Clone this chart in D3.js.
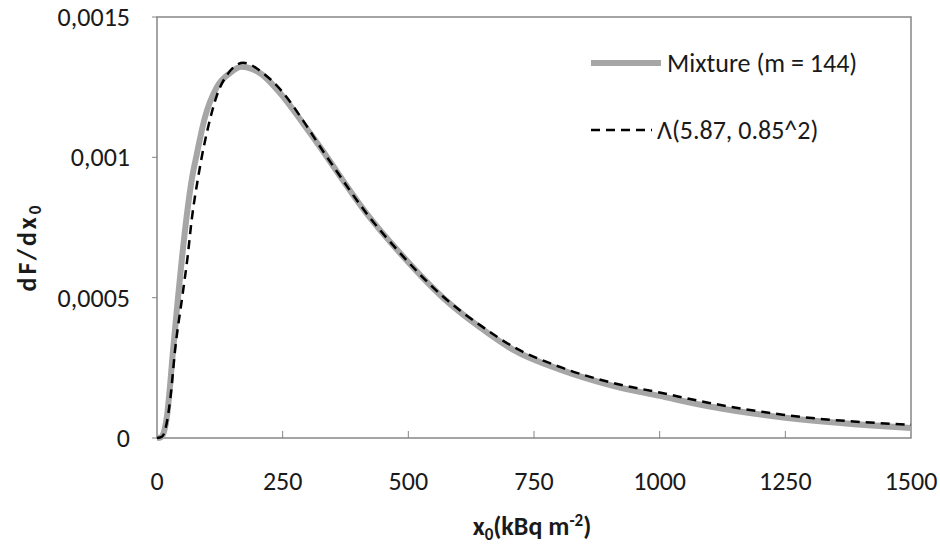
<!DOCTYPE html>
<html>
<head>
<meta charset="utf-8">
<script src="https://cdn.jsdelivr.net/npm/d3@7"></script>
<style>
  body { margin: 0; background: #fff; }
  text { font-family: Calibri, Carlito, Lato, sans-serif; fill: #1a1a1a; }
</style>
</head>
<body>
<div id="chart"></div>
<script>
// values
var mixtureX = [0, 8, 15, 20, 24, 32, 42, 50, 59, 70, 79, 95, 119, 145, 168, 205, 251, 291, 331, 350, 417, 483, 569, 642, 708, 808, 907, 1000, 1100, 1250, 1500];
var mixtureY = [0, 0.000003, 0.00003, 0.00008, 0.000148, 0.000314, 0.000504, 0.000647, 0.00079, 0.00093, 0.00101, 0.00114, 0.00125, 0.0013, 0.001323, 0.0013, 0.001216, 0.00112, 0.00102, 0.00097, 0.0008, 0.00066, 0.0005, 0.000395, 0.000315, 0.00024, 0.000186, 0.00015, 0.000112, 0.000072, 0.000036];

var lambdaX = [0, 10, 20, 27, 36, 50, 61, 69, 82, 90, 102, 119, 142, 172, 211, 251, 291, 331, 350, 417, 483, 569, 642, 708, 808, 907, 1000, 1099, 1245, 1500];
var lambdaY = [0, 0.000005, 0.00006, 0.000148, 0.000314, 0.0005, 0.000647, 0.000777, 0.00093, 0.00101, 0.00111, 0.00122, 0.0013, 0.001337, 0.0013, 0.00123, 0.00113, 0.00102, 0.00097, 0.0008, 0.00066, 0.000504, 0.000403, 0.000326, 0.000249, 0.000196, 0.000162, 0.000125, 0.000083, 0.000047];

var xTicks = [0, 250, 500, 750, 1000, 1250, 1500];
var yTicks = [0, 0.0005, 0.001, 0.0015];
var yTickLabels = ["0", "0,0005", "0,001", "0,0015"];
var legendLabels = ["Mixture (m = 144)", "\u039B(5.87, 0.85^2)"];

var width = 940, height = 548;
var plotLeft = 157, plotRight = 911, plotTop = 17, plotBottom = 438;
var axisColor = "#868686";

var svg = d3.select("#chart").append("svg")
    .attr("width", width)
    .attr("height", height);

var x = d3.scaleLinear().domain([0, 1500]).range([plotLeft, plotRight]);
var y = d3.scaleLinear().domain([0, 0.0015]).range([plotBottom, plotTop]);

// plot frame
svg.append("rect")
    .attr("x", plotLeft).attr("y", plotTop)
    .attr("width", plotRight - plotLeft).attr("height", plotBottom - plotTop)
    .attr("fill", "none")
    .attr("stroke", axisColor)
    .attr("stroke-width", 1.5);

// x ticks point inward
svg.append("g").selectAll("line")
    .data(xTicks.slice(1, -1))
    .enter().append("line")
    .attr("x1", function(d) { return x(d); })
    .attr("x2", function(d) { return x(d); })
    .attr("y1", plotBottom)
    .attr("y2", plotBottom - 7)
    .attr("stroke", axisColor);

svg.append("g").selectAll("text")
    .data(xTicks)
    .enter().append("text")
    .attr("x", function(d) { return x(d); })
    .attr("y", 490)
    .attr("text-anchor", "middle")
    .style("font-size", "26px")
    .text(function(d) { return d; });

// y ticks point outward
svg.append("g").selectAll("line")
    .data(yTicks)
    .enter().append("line")
    .attr("x1", plotLeft - 5)
    .attr("x2", plotLeft)
    .attr("y1", function(d) { return y(d); })
    .attr("y2", function(d) { return y(d); })
    .attr("stroke", axisColor);

svg.append("g").selectAll("text")
    .data(yTicks)
    .enter().append("text")
    .attr("x", 130)
    .attr("y", function(d) { return y(d) + 9; })
    .attr("text-anchor", "end")
    .style("font-size", "26px")
    .text(function(d, i) { return yTickLabels[i]; });

// axis titles
var yTitle = svg.append("text")
    .attr("transform", "translate(36,247) rotate(-90)")
    .attr("text-anchor", "middle")
    .style("font-size", "26px")
    .style("font-weight", "bold")
    .style("letter-spacing", "3px");
yTitle.append("tspan").text("dF/dx");
yTitle.append("tspan").attr("dy", 5).style("font-size", "17px").text("0");

var xTitle = svg.append("text")
    .attr("x", 532)
    .attr("y", 535)
    .attr("text-anchor", "middle")
    .style("font-size", "26px")
    .style("font-weight", "bold");
xTitle.append("tspan").text("x");
xTitle.append("tspan").attr("dy", 5).style("font-size", "17px").text("0");
xTitle.append("tspan").attr("dy", -5).text("(kBq m");
xTitle.append("tspan").attr("dy", -9).style("font-size", "17px").text("-2");
xTitle.append("tspan").attr("dy", 9).text(")");

// curves
var line = d3.line()
    .x(function(d) { return x(d[0]); })
    .y(function(d) { return y(d[1]); })
    .curve(d3.curveMonotoneX);

svg.append("path")
    .datum(d3.zip(mixtureX, mixtureY))
    .attr("d", line)
    .attr("fill", "none")
    .attr("stroke", "#a6a6a6")
    .attr("stroke-width", 6);

svg.append("path")
    .datum(d3.zip(lambdaX, lambdaY))
    .attr("d", line)
    .attr("fill", "none")
    .attr("stroke", "#000")
    .attr("stroke-width", 2.5)
    .attr("stroke-dasharray", "9,6");

// legend
var legend = svg.append("g");
legend.append("line")
    .attr("x1", 591).attr("x2", 661)
    .attr("y1", 63).attr("y2", 63)
    .attr("stroke", "#a6a6a6")
    .attr("stroke-width", 6);
legend.append("line")
    .attr("x1", 591).attr("x2", 652)
    .attr("y1", 130).attr("y2", 130)
    .attr("stroke", "#000")
    .attr("stroke-width", 2.5)
    .attr("stroke-dasharray", "9,6");
legend.selectAll("text")
    .data(legendLabels)
    .enter().append("text")
    .attr("x", function(d, i) { return i === 0 ? 667 : 657; })
    .attr("y", function(d, i) { return i === 0 ? 72 : 139; })
    .style("font-size", "26px")
    .text(function(d) { return d; });
</script>
</body>
</html>
